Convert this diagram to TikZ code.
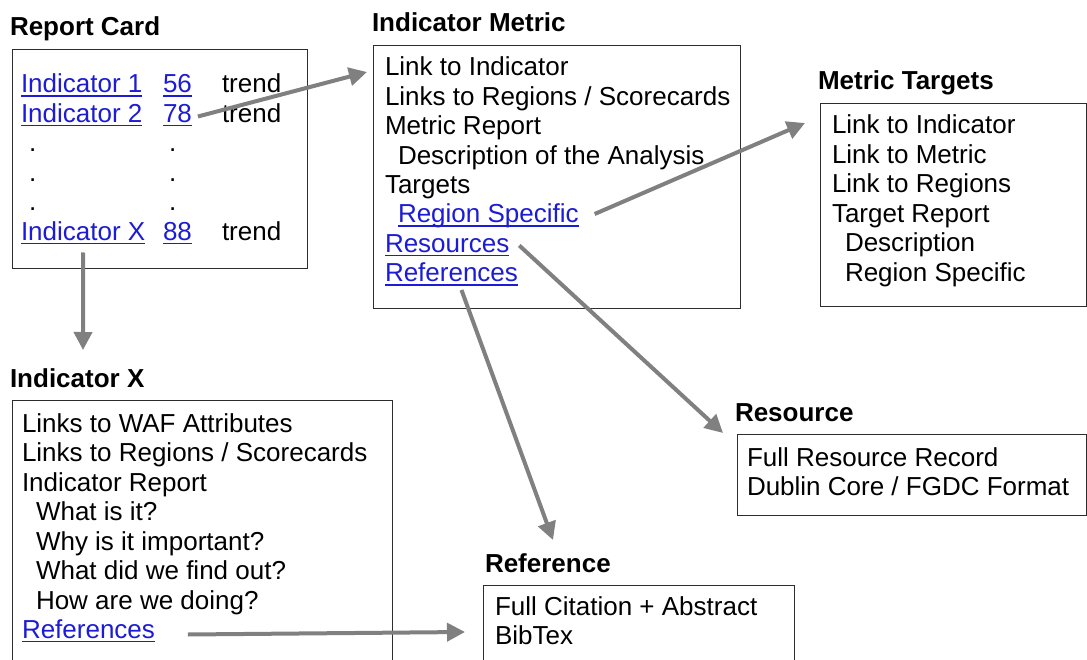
\documentclass[tikz,border=0pt]{standalone}
\usepackage{fontspec}
\setmainfont{Liberation Sans}
\usetikzlibrary{arrows.meta,calc}
\definecolor{linkblue}{RGB}{28,28,214}
\definecolor{arrowgray}{RGB}{128,128,128}
\definecolor{boxgray}{RGB}{45,45,45}
\newcommand{\lnk}[1]{{\color{linkblue}\setbox0\hbox{#1}\rlap{\rule[-3.6pt]{\wd0}{1.5pt}}\box0}}
\begin{document}
\begin{tikzpicture}[x=1pt,y=-1pt,
  txt/.style={anchor=base west,inner sep=0pt,outer sep=0pt,font=\fontsize{26}{30}\selectfont},
  ttl/.style={anchor=base west,inner sep=0pt,outer sep=0pt,font=\fontsize{26}{30}\selectfont\bfseries},
  boxst/.style={draw=boxgray,line width=1.3pt,anchor=north west,inner sep=0pt},
  arr/.style={draw=arrowgray,line width=4pt,-{Triangle[length=18pt,width=18pt]}}]
\clip (0,0) rectangle (1087,660);
\fill[white] (0,0) rectangle (1087,660);

% ---------- Report Card ----------
\node[ttl] (ttlRC) at (10,36) {Report Card};
\node[boxst,minimum width=295.5pt,minimum height=219pt] (rcbox) at (11.5,49) {};
\node[txt] (n1) at (21,93) {\lnk{Indicator 1}};
\node[txt] (n56) at (163,93) {\lnk{56}};
\node[txt] (tr1) at (222,93) {trend};
\node[txt] (n2) at (21,122.5) {\lnk{Indicator 2}};
\node[txt] (n78) at (163,122.5) {\lnk{78}};
\node[txt] (tr2) at (222,122.5) {trend};
\node[txt] (d1a) at (29,152) {.};
\node[txt] (d1b) at (169,152) {.};
\node[txt] (d2a) at (29,181.5) {.};
\node[txt] (d2b) at (169,181.5) {.};
\node[txt] (d3a) at (29,211) {.};
\node[txt] (d3b) at (169,211) {.};
\node[txt] (nX) at (21,240.5) {\lnk{Indicator X}};
\node[txt] (n88) at (163,240.5) {\lnk{88}};
\node[txt] (trX) at (222,240.5) {trend};

% ---------- Indicator Metric ----------
\node[ttl] (ttlIM) at (372,32) {Indicator Metric};
\node[boxst,minimum width=367pt,minimum height=263pt] (imbox) at (373,45) {};
\node[txt] (im1) at (385,76) {Link to Indicator};
\node[txt] (im2) at (385,105.5) {Links to Regions / Scorecards};
\node[txt] (im3) at (385,135) {Metric Report};
\node[txt] (im4) at (398,164.5) {Description of the Analysis};
\node[txt] (im5) at (385,194) {Targets};
\node[txt] (nRS) at (398,223) {\lnk{Region Specific}};
\node[txt] (nRes) at (385,252.5) {\lnk{Resources}};
\node[txt] (nRef) at (385,282) {\lnk{References}};

% ---------- Metric Targets ----------
\node[ttl] (ttlMT) at (818,90) {Metric Targets};
\node[boxst,minimum width=266pt,minimum height=203pt] (mtbox) at (820,103) {};
\node[txt] (mt1) at (832,134) {Link to Indicator};
\node[txt] (mt2) at (832,163.5) {Link to Metric};
\node[txt] (mt3) at (832,193) {Link to Regions};
\node[txt] (mt4) at (832,222.5) {Target Report};
\node[txt] (mt5) at (845,252) {Description};
\node[txt] (mt6) at (845,281.5) {Region Specific};

% ---------- Indicator X ----------
\node[ttl] (ttlIX) at (10,387) {Indicator X};
\node[boxst,minimum width=380pt,minimum height=275pt] (ixbox) at (12,400) {};
\node[txt] (ix1) at (22,432) {Links to WAF Attributes};
\node[txt] (ix2) at (22,461.5) {Links to Regions / Scorecards};
\node[txt] (ix3) at (22,491) {Indicator Report};
\node[txt] (ix4) at (36,520.5) {What is it?};
\node[txt] (ix5) at (36,550) {Why is it important?};
\node[txt] (ix6) at (36,579.5) {What did we find out?};
\node[txt] (ix7) at (36,609) {How are we doing?};
\node[txt] (nRefX) at (22,638.5) {\lnk{References}};

% ---------- Resource ----------
\node[ttl] (ttlRS) at (735,421) {Resource};
\node[boxst,minimum width=349pt,minimum height=81pt] (rsbox) at (737,434) {};
\node[txt] (rs1) at (747,466) {Full Resource Record};
\node[txt] (rs2) at (747,495.5) {Dublin Core / FGDC Format};

% ---------- Reference ----------
\node[ttl] (ttlRF) at (485,572) {Reference};
\node[boxst,minimum width=311pt,minimum height=90pt] (rfbox) at (483,585) {};
\node[txt] (rf1) at (495,615) {Full Citation + Abstract};
\node[txt] (rf2) at (495,644.5) {BibTex};

% ---------- connectors ----------
\coordinate (t1) at (367,72);
\coordinate (t2) at (83,350);
\coordinate (t3) at (805,123);
\coordinate (t4) at (723,433);
\coordinate (t5) at (553,540);
\coordinate (t6) at (465,632);
\draw[arr] ($(n78.base east)+(6,-6)$) -- (t1);
\draw[arr] ($(nX.base)+(0,12)$) -- (t2);
\draw[arr] ($(nRS.base east)+(16,-9)$) -- (t3);
\draw[arr] ($(nRes.base east)+(10,-7)$) -- (t4);
\draw[arr] ($(nRef.base)+(10,8)$) -- (t5);
\draw[arr] ($(nRefX.base east)+(33,-4)$) -- (t6);
\end{tikzpicture}
\end{document}
